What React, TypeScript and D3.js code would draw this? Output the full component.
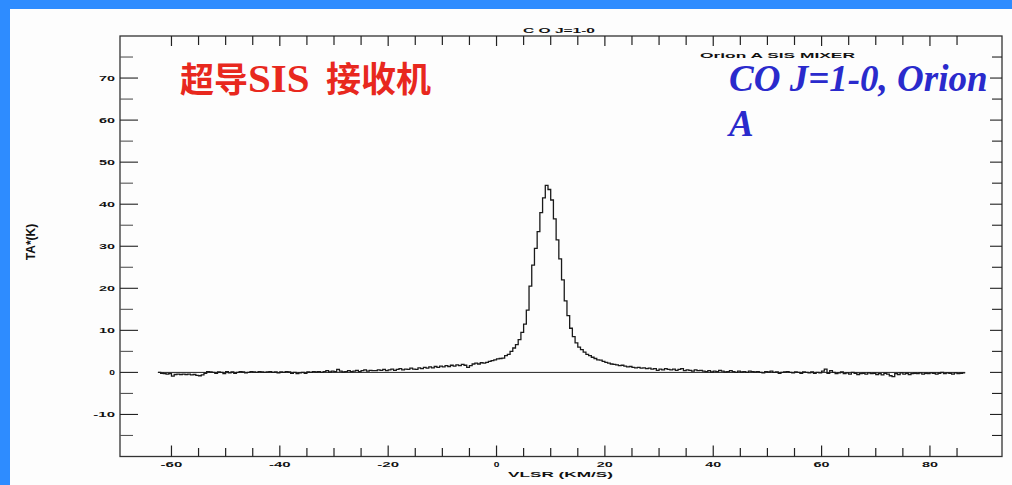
import React, { useEffect, useRef } from 'react';
import * as d3 from 'd3';

// spectrum: 0.5 km/s channels starting at -62.5 km/s
const vStart = -62.5;
const chanWidth = 0.5;

const taWingNeg = [
  0.0, -0.2, -0.3, -0.4, -0.3, -0.9, -0.5, -0.4, -0.5, -0.4, -0.5, -0.4, -0.6, -0.5, -0.7, -0.8, -0.6, -0.2, 0.2, 0.1,
  0.0, -0.2, 0.1, 0.0, -0.3, 0.2, -0.1, 0.1, -0.2, 0.0, 0.2, 0.1, -0.1, 0.0, 0.2, 0.1, 0.0, 0.2, 0.1, 0.0,
  0.1, 0.2, 0.0, 0.1, -0.1, 0.1, 0.0, 0.2, 0.1, -0.2, 0.0, -0.3, -0.1, 0.0, -0.2, 0.1, 0.0, 0.2, 0.1, 0.2,
  0.0, 0.2, 0.4, 0.1, 0.3, 0.2, 0.7, 0.3, 0.1, 0.2, 0.4, 0.2, 0.3, 0.5, 0.2, 0.4, 0.6, 0.3, 0.5, 0.4,
  0.4, 0.6, 0.5, 0.7, 0.4, 0.6, 0.8, 0.5, 0.7, 0.9, 0.6, 0.8, 0.7, 1.0, 0.8, 0.7, 1.1, 0.9, 1.2, 1.0,
  1.3, 1.1, 1.4, 1.2, 1.5, 1.3, 1.6, 1.4, 1.7, 1.5, 1.8, 1.6, 1.9, 1.7, 1.2, 1.6, 2.0, 2.2, 2.0, 2.3,
];

const taCore = [
  2.2, 2.4, 2.6, 2.8, 3.0, 3.2, 3.3, 3.4, 4.0, 4.3, 5.0, 5.8, 6.6, 7.8, 9.5, 11.5, 14.8, 20.5, 25.5, 29.5,
  33.5, 38.0, 41.5, 44.5, 43.5, 41.0, 36.5, 31.5, 27.0, 22.0, 17.0, 13.5, 10.5, 8.5, 7.0, 6.0, 5.4, 4.8, 4.3, 4.0,
  3.6, 3.3, 3.0, 2.9, 2.6, 2.4, 2.2, 2.0, 1.9, 1.8, 1.6, 1.7, 1.5, 1.3, 1.4, 1.2, 1.1, 1.2, 1.0, 1.1,
];

const taWingPos = [
  0.9, 1.0, 0.8, 0.9, 0.5, 0.8, 0.6, 0.9, 0.7, 0.6, 0.8, 0.5, 0.7, 0.9, 0.4, 0.6, 0.5, 0.3, 0.6, 0.4,
  0.5, 0.3, 0.2, 0.4, 0.1, 0.3, 0.2, 0.5, 0.3, 0.1, 0.2, 0.4, 0.2, 0.0, 0.3, 0.1, 0.2, 0.0, 0.3, 0.2,
  0.1, 0.2, 0.0, -0.1, 0.2, 0.1, 0.3, 0.0, 0.1, -0.2, 0.0, 0.1, 0.2, 0.0, -0.1, 0.1, 0.0, -0.2, 0.1, 0.0,
  -0.1, 0.1, -0.2, 0.0, -0.1, 0.3, 0.8, -0.2, 0.4, 0.0, -0.3, -0.1, 0.1, -0.3, -0.1, -0.4, 0.0, -0.2, -0.5, -0.3,
  -0.2, -0.4, -0.1, -0.3, -0.2, -0.5, -0.3, -0.6, -0.2, -0.4, -0.8, -1.0, -0.3, -0.5, -0.1, -0.4, -0.2, -0.5, -0.3, -0.2,
  -0.3, -0.1, -0.4, -0.2, -0.3, -0.1, -0.2, -0.4, -0.2, 0.0, -0.3, -0.1, -0.2, -0.4, -0.1, -0.3, -0.2, -0.1,
];

const xTickLabels = [-60, -40, -20, 0, 20, 40, 60, 80];
const yTickLabels = [-10, 0, 10, 20, 30, 40, 50, 60, 70];

const width = 1012;
const height = 485;
const frame = { left: 120, right: 1002, top: 36, bottom: 456.5 };

function App() {
  const ref = useRef(null);

  useEffect(() => {
    const svg = d3.select(ref.current);
    svg.selectAll('*').remove();

    const x = d3.scaleLinear().domain([-69.5, 93.3]).range([frame.left, frame.right]);
    const y = d3.scaleLinear().domain([-20, 80]).range([frame.bottom, frame.top]);

    // slide frame
    svg.append('rect').attr('width', width).attr('height', height).attr('fill', '#fdfdfd');
    svg.append('rect').attr('width', width).attr('height', 9).attr('fill', '#2e8cff');
    svg.append('rect').attr('width', 10).attr('height', height).attr('fill', '#2e8cff');

    const ink = '#222';

    // plot box
    svg.append('rect')
      .attr('x', frame.left).attr('y', frame.top)
      .attr('width', frame.right - frame.left)
      .attr('height', frame.bottom - frame.top)
      .attr('fill', 'none').attr('stroke', '#333').attr('stroke-width', 1.3);

    const minorX = d3.range(-60, 86, 5);
    const minorY = d3.range(-15, 80, 5);

    // bottom + top ticks
    minorX.forEach(v => {
      const major = xTickLabels.includes(v);
      svg.append('line')
        .attr('x1', x(v)).attr('x2', x(v))
        .attr('y1', frame.bottom).attr('y2', frame.bottom - (major ? 11 : 8.5))
        .attr('stroke', ink).attr('stroke-width', 1.2);
      svg.append('line')
        .attr('x1', x(v)).attr('x2', x(v))
        .attr('y1', frame.top).attr('y2', frame.top + (major ? 10 : 9))
        .attr('stroke', ink).attr('stroke-width', 1.2);
    });

    // left + right ticks
    minorY.forEach(v => {
      const major = yTickLabels.includes(v);
      svg.append('line')
        .attr('x1', frame.left).attr('x2', frame.left + (major ? 18 : 13))
        .attr('y1', y(v)).attr('y2', y(v))
        .attr('stroke', major ? ink : '#555').attr('stroke-width', 1.1);
      svg.append('line')
        .attr('x1', frame.right).attr('x2', frame.right - (major ? 12 : 10))
        .attr('y1', y(v)).attr('y2', y(v))
        .attr('stroke', ink).attr('stroke-width', 1.1);
    });

    const smallText = (sel, str, px) => {
      sel.attr('font-family', '"Liberation Sans", Arial, sans-serif')
        .attr('font-weight', 'bold')
        .attr('fill', '#111')
        .attr('lengthAdjust', 'spacingAndGlyphs')
        .text(str);
      if (px) sel.attr('textLength', px);
      return sel;
    };

    const labelLen = s => (s.length === 1 ? 5.7 : s.length === 2 ? 16 : 21.7);

    xTickLabels.forEach(v => {
      const s = String(v);
      smallText(svg.append('text'), s, labelLen(s))
        .attr('x', x(v) - labelLen(s) / 2).attr('y', 466.5)
        .attr('font-size', 7.5);
    });

    yTickLabels.forEach(v => {
      const s = String(v);
      smallText(svg.append('text'), s, labelLen(s))
        .attr('x', 115 - labelLen(s)).attr('y', y(v) + 2.8)
        .attr('font-size', 7.5);
    });

    // axis titles
    smallText(svg.append('text'), 'VLSR (KM/S)', 105)
      .attr('x', 508).attr('y', 477).attr('font-size', 7.5);

    smallText(svg.append('text'), 'C O  J=1-0', 72)
      .attr('x', 523).attr('y', 32.5).attr('font-size', 8);

    smallText(svg.append('text'), 'Orion A   SIS MIXER', 155)
      .attr('x', 700).attr('y', 58).attr('font-size', 8);

    svg.append('text')
      .attr('transform', 'translate(35,242) rotate(-90)')
      .attr('text-anchor', 'middle')
      .attr('font-family', '"Liberation Sans", Arial, sans-serif')
      .attr('font-weight', 'bold')
      .attr('font-size', 12)
      .attr('fill', '#111')
      .text('TA*(K)');

    // zero baseline
    const nChan = taWingNeg.length + taCore.length + taWingPos.length;
    svg.append('line')
      .attr('x1', x(vStart)).attr('x2', x(vStart + nChan * chanWidth))
      .attr('y1', y(0)).attr('y2', y(0))
      .attr('stroke', ink).attr('stroke-width', 1);

    // spectrum as histogram steps
    const ta = [...taWingNeg, ...taCore, ...taWingPos];
    const pts = ta.map((t, i) => [vStart + i * chanWidth, t]);
    pts.push([vStart + ta.length * chanWidth, ta[ta.length - 1]]);

    const line = d3.line()
      .x(d => x(d[0]))
      .y(d => y(d[1]))
      .curve(d3.curveStepAfter);

    svg.append('path')
      .datum(pts)
      .attr('d', line)
      .attr('fill', 'none')
      .attr('stroke', '#1a1a1a')
      .attr('stroke-width', 1.3);

    // slide annotations
    const red = svg.append('g')
      .attr('fill', '#e8281e')
      .attr('font-weight', 'bold');
    red.append('text').attr('x', 180).attr('y', 92)
      .attr('font-family', '"Noto Sans CJK SC", sans-serif').attr('font-size', 34)
      .text('超导');
    red.append('text').attr('x', 248).attr('y', 92)
      .attr('font-family', '"Liberation Serif", serif').attr('font-size', 41)
      .text('SIS');
    red.append('text').attr('x', 326).attr('y', 92)
      .attr('font-family', '"Noto Sans CJK SC", sans-serif').attr('font-size', 35)
      .text('接收机');

    const blue = svg.append('g')
      .attr('fill', '#2a2acc')
      .attr('font-family', '"Liberation Serif", "Times New Roman", serif')
      .attr('font-style', 'italic')
      .attr('font-weight', 'bold')
      .attr('font-size', 37);
    blue.append('text').attr('x', 729).attr('y', 91).text('CO J=1-0, Orion');
    blue.append('text').attr('x', 729).attr('y', 136).text('A');
  }, []);

  return (
    <svg
      ref={ref}
      width={width}
      height={height}
      style={{ position: 'absolute', left: 0, top: 0, display: 'block' }}
    />
  );
}

export default App;
